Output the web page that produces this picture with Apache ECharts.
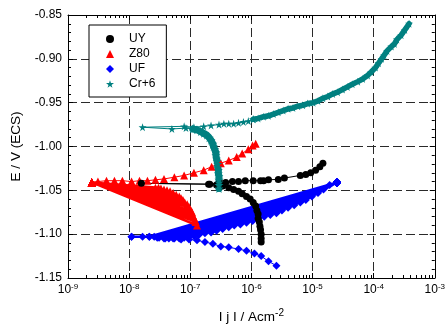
<!DOCTYPE html>
<html>
<head>
<meta charset="utf-8">
<script src="https://cdn.jsdelivr.net/npm/echarts@6/dist/echarts.min.js"></script>
<style>
  html, body { margin: 0; padding: 0; background: #fff; }
  #chart { width: 448px; height: 329px; }
</style>
</head>
<body>
<div id="chart"></div>
<script>
// points are [log10 |j| (A/cm2), E (V vs ECS)]

// UY: cathodic branch from the bottom up, corrosion point, anodic branch
const uyPoints = [
  [-5.84, -1.109], [-5.84, -1.105], [-5.84, -1.100], [-5.85, -1.095], [-5.86, -1.091],
  [-5.87, -1.086], [-5.89, -1.082], [-5.89, -1.077], [-5.91, -1.073], [-5.93, -1.068],
  [-5.97, -1.064], [-6.02, -1.060], [-6.08, -1.057], [-6.15, -1.054], [-6.21, -1.051],
  [-6.29, -1.049], [-6.37, -1.047], [-6.47, -1.045], [-6.57, -1.044], [-6.68, -1.043],
  [-7.80, -1.042],
  [-6.70, -1.043], [-6.52, -1.041], [-6.42, -1.041], [-6.31, -1.040], [-6.21, -1.040],
  [-6.10, -1.039], [-5.97, -1.039], [-5.85, -1.039], [-5.80, -1.039], [-5.72, -1.038],
  [-5.56, -1.0375], [-5.46, -1.036], [-5.20, -1.033], [-5.11, -1.032], [-5.03, -1.030],
  [-4.95, -1.027], [-4.88, -1.023], [-4.83, -1.019]
]

// Z80: noisy cathodic sweep swinging back to the corrosion point ...
const z80SweepPoints = [
  [-6.89, -1.090], [-8.61, -1.041], [-6.91, -1.086], [-8.61, -1.041], [-6.92, -1.084], [-8.61, -1.041],
  [-6.94, -1.081], [-8.61, -1.041], [-6.96, -1.078], [-8.61, -1.041], [-6.97, -1.075], [-8.61, -1.041],
  [-6.99, -1.073], [-8.61, -1.041], [-7.02, -1.069], [-8.61, -1.041], [-7.05, -1.066], [-8.61, -1.041],
  [-7.09, -1.064], [-8.61, -1.041], [-7.12, -1.061], [-8.61, -1.041], [-7.15, -1.059], [-8.61, -1.041],
  [-7.18, -1.057], [-8.61, -1.041], [-7.23, -1.055], [-8.61, -1.041], [-7.28, -1.053], [-8.61, -1.041],
  [-7.33, -1.051], [-8.61, -1.041], [-7.38, -1.050], [-8.61, -1.041], [-7.43, -1.049], [-8.61, -1.041],
  [-7.48, -1.048], [-8.61, -1.041], [-7.52, -1.047], [-8.61, -1.041], [-7.57, -1.047], [-8.61, -1.041]
]
// ... then the anodic branch
const z80AnodicPoints = [
  [-8.61, -1.041],
  [-8.51, -1.040], [-8.37, -1.039], [-8.24, -1.039], [-8.11, -1.039], [-7.96, -1.040], [-7.83, -1.039],
  [-7.70, -1.039], [-7.57, -1.038], [-7.43, -1.037], [-7.26, -1.035], [-7.10, -1.033], [-6.94, -1.030],
  [-6.78, -1.027], [-6.65, -1.023], [-6.50, -1.019], [-6.37, -1.016], [-6.24, -1.012], [-6.15, -1.008],
  [-6.05, -1.003], [-5.98, -0.999], [-5.93, -0.997]
]

// UF: cathodic branch down to the corrosion point ...
const ufCathodicPoints = [
  [-5.59, -1.136], [-5.72, -1.131], [-5.84, -1.125], [-5.95, -1.122], [-6.08, -1.119],
  [-6.21, -1.117], [-6.37, -1.115], [-6.50, -1.114], [-6.63, -1.111], [-6.76, -1.109],
  [-6.89, -1.107], [-7.02, -1.106], [-7.15, -1.106], [-7.28, -1.105], [-7.41, -1.105],
  [-7.54, -1.104], [-7.67, -1.103], [-7.78, -1.103], [-7.96, -1.103]
]
// ... then the noisy anodic sweep towards the end point
const ufSweepPoints = [
  [-7.96, -1.103],
  [-7.67, -1.103], [-4.60, -1.041], [-7.59, -1.103], [-4.60, -1.041], [-7.51, -1.104], [-4.60, -1.041],
  [-7.43, -1.105], [-4.60, -1.041], [-7.35, -1.105], [-4.60, -1.041], [-7.26, -1.105], [-4.60, -1.041],
  [-7.18, -1.105], [-4.60, -1.041], [-7.10, -1.104], [-4.60, -1.041], [-7.02, -1.103], [-4.60, -1.041],
  [-6.94, -1.102], [-4.60, -1.041], [-6.86, -1.101], [-4.60, -1.041], [-6.76, -1.099], [-4.60, -1.041],
  [-6.66, -1.098], [-4.60, -1.041], [-6.57, -1.096], [-4.60, -1.041], [-6.47, -1.094], [-4.60, -1.041],
  [-6.37, -1.092], [-4.60, -1.041], [-6.28, -1.090], [-4.60, -1.041], [-6.18, -1.089], [-4.60, -1.041],
  [-6.08, -1.087], [-4.60, -1.041], [-5.98, -1.085], [-4.60, -1.041], [-5.89, -1.082], [-4.60, -1.041],
  [-5.79, -1.080], [-4.60, -1.041], [-5.69, -1.078], [-4.60, -1.041], [-5.59, -1.076], [-4.60, -1.041],
  [-5.50, -1.073], [-4.60, -1.041], [-5.40, -1.070], [-4.60, -1.041], [-5.30, -1.067], [-4.60, -1.041],
  [-5.20, -1.064], [-4.60, -1.041], [-5.11, -1.061], [-4.60, -1.041], [-5.01, -1.057], [-4.60, -1.041],
  [-4.91, -1.053], [-4.60, -1.041], [-4.82, -1.049], [-4.60, -1.041], [-4.72, -1.044], [-4.60, -1.041]
]

// Cr+6: dense cathodic band ...
const crBandPoints = [
  [-6.53, -1.048], [-6.53, -1.044], [-6.53, -1.041], [-6.53, -1.038], [-6.53, -1.034],
  [-6.54, -1.031], [-6.54, -1.027], [-6.55, -1.024], [-6.55, -1.020], [-6.56, -1.017],
  [-6.57, -1.014], [-6.58, -1.010], [-6.58, -1.007], [-6.60, -1.003], [-6.62, -1.000],
  [-6.63, -0.997], [-6.66, -0.993], [-6.69, -0.990], [-6.73, -0.987], [-6.78, -0.985],
  [-6.83, -0.983], [-6.89, -0.981], [-6.96, -0.980]
]
// ... sparse part around the corrosion point ...
const crMidPoints = [
  [-6.96, -0.980], [-7.07, -0.979], [-7.30, -0.980], [-7.78, -0.978],
  [-7.10, -0.977], [-6.94, -0.978], [-6.78, -0.977], [-6.66, -0.976], [-6.53, -0.975], [-6.45, -0.974],
  [-6.37, -0.974], [-6.29, -0.974], [-6.21, -0.973], [-6.13, -0.972], [-6.05, -0.971], [-5.97, -0.969]
]
// ... and the dense anodic branch
const crAnodicPoints = [
  [-5.97, -0.969], [-5.89, -0.968], [-5.80, -0.966], [-5.72, -0.965], [-5.64, -0.963],
  [-5.56, -0.961], [-5.48, -0.959], [-5.40, -0.957], [-5.32, -0.956], [-5.24, -0.954],
  [-5.16, -0.953], [-5.08, -0.951], [-4.99, -0.950], [-4.91, -0.948], [-4.83, -0.945],
  [-4.75, -0.943], [-4.67, -0.940], [-4.59, -0.938], [-4.51, -0.935], [-4.43, -0.932],
  [-4.35, -0.929], [-4.26, -0.926], [-4.18, -0.923], [-4.10, -0.919], [-4.04, -0.915],
  [-3.97, -0.910], [-3.92, -0.905], [-3.87, -0.900], [-3.83, -0.896], [-3.78, -0.891],
  [-3.71, -0.886], [-3.66, -0.883], [-3.62, -0.878], [-3.55, -0.873], [-3.49, -0.867],
  [-3.42, -0.860]
]

// axis ranges and ticks
const xDecades = [-9, -8, -7, -6, -5, -4, -3]
const yRange = [-1.15, -0.85]
const yStep = 0.05

// log minor ticks (2..9 of each decade)
const xMinor = []
xDecades.slice(0, -1).forEach(d => {
    for (let m = 2; m <= 9; m++) xMinor.push(d + Math.log10(m))
})

const FONT = '"Liberation Sans", Arial, sans-serif'
const STAR = 'path://M0,-10L2.24,-3.09L9.51,-3.09L3.63,1.18L5.88,8.09L0,3.82L-5.88,8.09L-3.63,1.18L-9.51,-3.09L-2.24,-3.09Z'
const GRID_LINE = { color: '#2a2a2a', width: 1, type: [9, 4] }

const chart = echarts.init(document.getElementById('chart'), null, { renderer: 'canvas' })

function xMajor(position, withLabels) {
    return {
        type: 'value',
        position: position,
        min: xDecades[0],
        max: xDecades[xDecades.length - 1],
        interval: 1,
        axisLine: { show: true, onZero: false, lineStyle: { color: '#000', width: 1 } },
        axisTick: { show: true, inside: true, length: 5, lineStyle: { color: '#000' } },
        axisLabel: {
            show: withLabels,
            margin: 5,
            formatter: v => '{b|10}{e|' + v + '}',
            rich: {
                b: { fontSize: 12, fontFamily: FONT, color: '#000', lineHeight: 14 },
                e: { fontSize: 8, fontFamily: FONT, color: '#000', verticalAlign: 'top', lineHeight: 9 }
            }
        },
        splitLine: { show: withLabels, lineStyle: GRID_LINE },
        name: withLabels ? '{a|I j I / Acm}{s|-2}' : '',
        nameLocation: 'middle',
        nameGap: 30,
        nameTextStyle: {
            rich: {
                a: { fontSize: 13.5, fontFamily: FONT, color: '#000', lineHeight: 18 },
                s: { fontSize: 10, fontFamily: FONT, color: '#000', verticalAlign: 'top', lineHeight: 10 }
            }
        }
    }
}

function xMinorAxis(position) {
    return {
        type: 'value',
        position: position,
        min: xDecades[0],
        max: xDecades[xDecades.length - 1],
        axisLine: { show: false, onZero: false },
        axisTick: { show: true, inside: true, length: 3, customValues: xMinor, lineStyle: { color: '#000' } },
        axisLabel: { show: false },
        splitLine: { show: false }
    }
}

function yAxis(position, withLabels) {
    return {
        type: 'value',
        position: position,
        min: yRange[0],
        max: yRange[1],
        interval: yStep,
        axisLine: { show: true, onZero: false, lineStyle: { color: '#000', width: 1 } },
        axisTick: { show: true, inside: true, length: 5, lineStyle: { color: '#000' } },
        minorTick: { show: true, splitNumber: 5, length: 3, lineStyle: { color: '#000' } },
        axisLabel: {
            show: withLabels,
            margin: 6,
            fontSize: 12,
            fontFamily: FONT,
            color: '#000',
            formatter: v => v.toFixed(2)
        },
        splitLine: { show: withLabels, lineStyle: GRID_LINE },
        name: withLabels ? 'E / V (ECS)' : '',
        nameLocation: 'middle',
        nameRotate: 90,
        nameGap: 43,
        nameTextStyle: { fontSize: 13.5, fontFamily: FONT, color: '#000' }
    }
}

// dense stretches of a curve get a heavier line so they read as a solid band
function curve(name, points, color, symbol, size, width) {
    return {
        name: name,
        type: 'line',
        data: points,
        symbol: symbol,
        symbolSize: size,
        showAllSymbol: true,
        lineStyle: { color: color, width: width, cap: 'round', join: 'round' },
        itemStyle: { color: color },
        emphasis: { disabled: true },
        animation: false
    }
}

const option = {
    animation: false,
    backgroundColor: '#fff',
    grid: { left: 68, right: 10, top: 15, bottom: 50, containLabel: false },
    legend: {
        orient: 'vertical',
        left: 89,
        top: 25,
        padding: [8, 11, 7, 17],
        backgroundColor: '#fff',
        borderColor: '#000',
        borderWidth: 1,
        borderRadius: 0,
        itemWidth: 8,
        itemHeight: 8,
        itemGap: 3,
        textStyle: { fontSize: 12, fontFamily: FONT, color: '#000', padding: [0, 0, 0, 10] },
        data: [
            { name: 'UY', icon: 'circle' },
            { name: 'Z80', icon: 'triangle' },
            { name: 'UF', icon: 'diamond' },
            { name: 'Cr+6', icon: STAR }
        ]
    },
    xAxis: [xMajor('bottom', true), xMinorAxis('bottom'), xMajor('top', false), xMinorAxis('top')],
    yAxis: [yAxis('left', true), yAxis('right', false)],
    // drawing order: UF under Z80 under UY under Cr+6
    series: [
        curve('UF', ufCathodicPoints, '#0000ff', 'diamond', 8, 1),
        curve('UF', ufSweepPoints, '#0000ff', 'diamond', 8, 2.5),
        curve('Z80', z80SweepPoints, '#ff0000', 'triangle', 8, 2.5),
        curve('Z80', z80AnodicPoints, '#ff0000', 'triangle', 8, 1),
        curve('UY', uyPoints, '#000000', 'circle', 7, 1),
        curve('Cr+6', crBandPoints, '#008080', STAR, 9, 7),
        curve('Cr+6', crMidPoints, '#008080', STAR, 8, 1),
        curve('Cr+6', crAnodicPoints, '#008080', STAR, 8, 5.5)
    ]
}

chart.setOption(option)
</script>
</body>
</html>
